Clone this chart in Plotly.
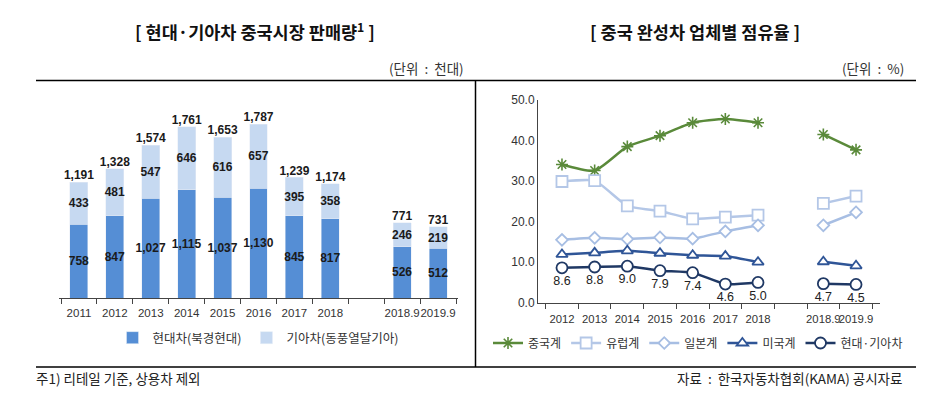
import plotly.graph_objects as go

# ---------------- data ----------------
bar_cats = ["2011", "2012", "2013", "2014", "2015", "2016", "2017", "2018", " ", "2018.9", "2019.9"]
hyundai = [758, 847, 1027, 1115, 1037, 1130, 845, 817, None, 526, 512]
kia = [433, 481, 547, 646, 616, 657, 395, 358, None, 246, 219]
totals = [1191, 1328, 1574, 1761, 1653, 1787, 1239, 1174, None, 771, 731]

line_cats = ["2012", "2013", "2014", "2015", "2016", "2017", "2018", " ", "2018.9", "2019.9"]
china = [34.1, 32.6, 38.5, 41.2, 44.4, 45.3, 44.4, None, 41.5, 37.7]
europe = [29.9, 30.1, 23.9, 22.6, 20.7, 21.1, 21.6, None, 24.5, 26.3]
japan = [15.5, 16.0, 15.7, 16.1, 15.8, 17.6, 19.1, None, 19.1, 22.3]
usa = [11.9, 12.3, 12.8, 12.2, 11.7, 11.5, 10.0, None, 10.1, 9.1]
hk = [8.6, 8.8, 9.0, 7.9, 7.4, 4.6, 5.0, None, 4.7, 4.5]

# page body has an 8px margin: the figure starts at (8, 8) in the window
OFF = 8
W, H = 936 - OFF, 396 - OFF
def px(x):
    return (x - OFF) / W
def py(y):
    return 1 - (y - OFF) / H

KFONT = "Noto Sans CJK KR"
NFONT = "Liberation Sans"

C_DARK = "#558ED5"
C_LIGHT = "#C6D9F1"

fig = go.Figure()

# ---------------- left: stacked bars ----------------
lbl_font = dict(family=NFONT, size=12, color="#1a1a1a", weight="bold")
fig.add_trace(go.Bar(
    x=bar_cats, y=hyundai, name="현대차(북경현대)", marker_color=C_DARK,
    width=0.5, text=[f"{v:,}" if v is not None else "" for v in hyundai],
    textposition="inside", insidetextanchor="middle", textangle=0,
    constraintext="none", textfont=lbl_font,
    xaxis="x", yaxis="y", legend="legend", cliponaxis=False,
))
fig.add_trace(go.Bar(
    x=bar_cats, y=kia, name="기아차(동풍열달기아)", marker_color=C_LIGHT,
    width=0.5, text=[f"{v:,}" if v is not None else "" for v in kia],
    textposition="inside", insidetextanchor="middle", textangle=0,
    constraintext="none", textfont=lbl_font,
    xaxis="x", yaxis="y", legend="legend", cliponaxis=False,
))
fig.add_trace(go.Scatter(
    x=bar_cats, y=totals, mode="text",
    text=[f"{v:,}" if v is not None else "" for v in totals],
    textposition="top center", textfont=lbl_font,
    showlegend=False, xaxis="x", yaxis="y", cliponaxis=False, hoverinfo="skip",
))

# ---------------- right: lines ----------------
def line(y, name, color, symbol, size, text=None):
    return go.Scatter(
        x=line_cats, y=y, name=name, mode="lines+markers" + ("+text" if text else ""),
        line=dict(color=color, width=2.5, shape="spline", smoothing=0.5),
        marker=dict(symbol=symbol, size=size, color="white",
                    line=dict(color=color, width=1.8)),
        text=text, textposition="bottom center",
        textfont=dict(family=NFONT, size=12.5, color="#222"),
        connectgaps=False, xaxis="x2", yaxis="y2", legend="legend2",
        cliponaxis=False,
    )

fig.add_trace(go.Scatter(
    x=line_cats, y=china, name="중국계", mode="lines+markers",
    line=dict(color="#5A8A3A", width=2.5, shape="spline", smoothing=0.6),
    marker=dict(symbol="asterisk-open", size=10, color="#5A8A3A",
                line=dict(color="#5A8A3A", width=1.6)),
    connectgaps=False, xaxis="x2", yaxis="y2", legend="legend2", cliponaxis=False,
))
fig.add_trace(line(europe, "유럽계", "#B4C7E7", "square", 11))
fig.add_trace(line(japan, "일본계", "#A7BEE3", "diamond", 9))
fig.add_trace(line(usa, "미국계", "#2F5597", "triangle-up", 10))
fig.add_trace(line(hk, "현대·기아차", "#1F3864", "circle", 11,
                   text=[f"{v:.1f}" if v is not None else "" for v in hk]))

# ---------------- layout ----------------
fig.update_layout(
    width=W, height=H, margin=dict(l=0, r=0, t=0, b=0, autoexpand=False),
    paper_bgcolor="white", plot_bgcolor="white",
    barmode="stack", bargap=0.5,
    xaxis=dict(domain=[px(59), px(458)], type="category", categoryorder="array",
               categoryarray=bar_cats, showline=True, linecolor="#444", linewidth=1,
               ticks="outside", ticklen=5, tickcolor="#444", tickson="boundaries",
               showgrid=False, tickangle=0, ticklabelstandoff=4,
               tickfont=dict(family=NFONT, size=11.5, color="#333"),
               anchor="y", fixedrange=True),
    yaxis=dict(domain=[py(298), py(298 - 2000 * 0.0972)], range=[0, 2000],
               visible=False, showgrid=False, anchor="x", fixedrange=True),
    xaxis2=dict(domain=[px(538), px(880)], type="category", categoryorder="array",
                categoryarray=line_cats, showline=True, linecolor="#444", linewidth=1,
                ticks="outside", ticklen=5, tickcolor="#444", tickson="boundaries",
                showgrid=False, tickangle=0, ticklabelstandoff=6,
                tickfont=dict(family=NFONT, size=11.3, color="#333"),
                anchor="y2", fixedrange=True),
    yaxis2=dict(domain=[py(302.7), py(100)], range=[0, 50], dtick=10, tickformat=".1f",
                showline=True, linecolor="#444", linewidth=1, showgrid=False,
                zeroline=False, ticks="", tickfont=dict(family=NFONT, size=12, color="#333"),
                anchor="x2", fixedrange=True),
    legend=dict(orientation="h", x=px(258), xanchor="center", y=py(338), yanchor="middle",
                font=dict(family=KFONT, size=12.5, color="#333"), bgcolor="rgba(0,0,0,0)",
                itemwidth=30, traceorder="normal"),
    legend2=dict(orientation="h", x=px(698), xanchor="center", y=py(343), yanchor="middle",
                 font=dict(family=KFONT, size=12, color="#333"), bgcolor="rgba(0,0,0,0)",
                 itemwidth=30, traceorder="normal"),
    showlegend=True,
)

# titles, units, footers
ann = [
    dict(text="[ 현대·기아차 중국시장 판매량<sup>1</sup> ]", x=px(255), y=py(31),
         font=dict(family=KFONT, size=17.5, color="#111", weight="bold"), xanchor="center"),
    dict(text="[ 중국 완성차 업체별 점유율 ]", x=px(695), y=py(31),
         font=dict(family=KFONT, size=17.5, color="#111", weight="bold"), xanchor="center"),
    dict(text="(단위  :  천대)", x=px(466), y=py(68), xanchor="right",
         font=dict(family=KFONT, size=13.5, color="#333")),
    dict(text="(단위  :  %)", x=px(906), y=py(68), xanchor="right",
         font=dict(family=KFONT, size=13.5, color="#333")),
    dict(text="주1) 리테일 기준, 상용차 제외", x=px(34), y=py(378), xanchor="left",
         font=dict(family=KFONT, size=13.5, color="#222")),
    dict(text="자료  :  한국자동차협회(KAMA) 공시자료", x=px(904), y=py(378), xanchor="right",
         font=dict(family=KFONT, size=13.5, color="#222")),
]
for a in ann:
    a.update(xref="paper", yref="paper", yanchor="middle", showarrow=False)
    fig.add_annotation(**a)

# frame lines
for x0, y0, x1, y1 in [(36, 80.5, 916, 80.5), (36, 367, 916, 367), (475.5, 80.5, 475.5, 367)]:
    fig.add_shape(type="line", xref="paper", yref="paper",
                  x0=px(x0), y0=py(y0), x1=px(x1), y1=py(y1),
                  line=dict(color="#000", width=1.5))

fig.write_html("out.html")
